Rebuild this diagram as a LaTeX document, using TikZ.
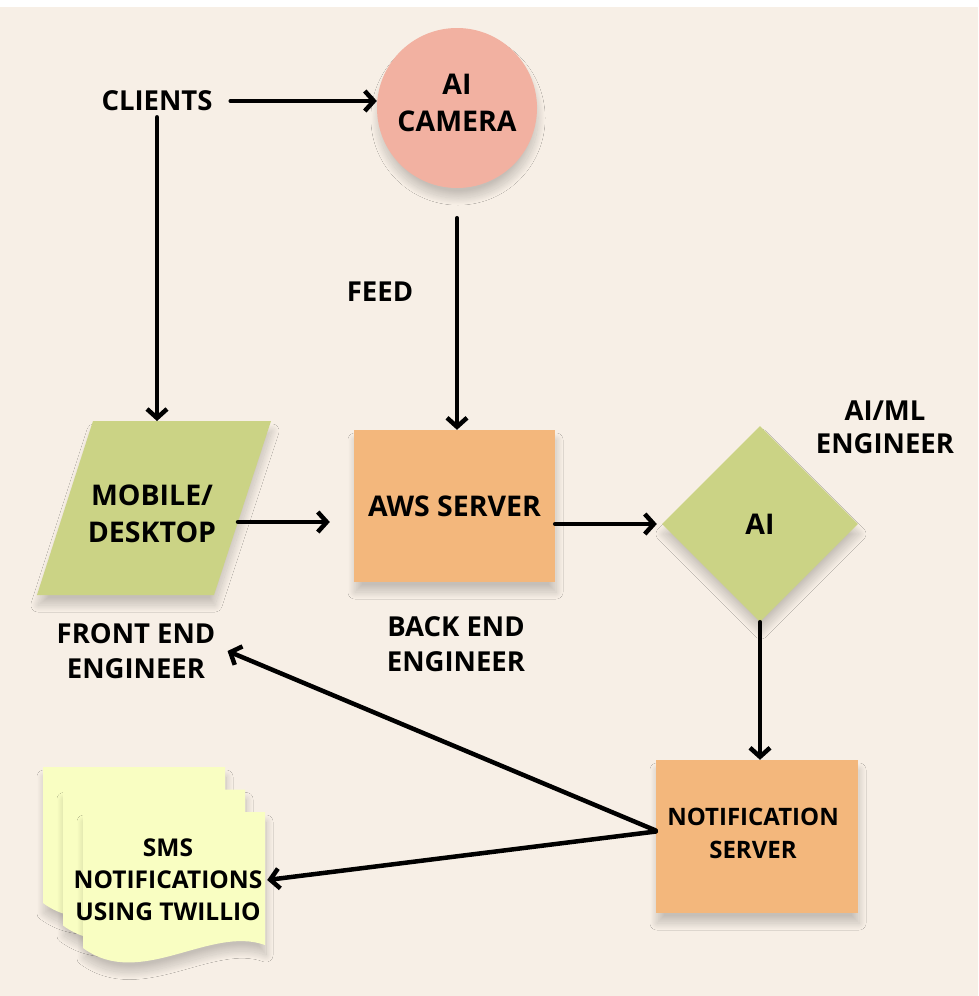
\documentclass[tikz,border=0pt]{standalone}
\usepackage{fontspec}
\setmainfont{Open Sans}
\usetikzlibrary{shapes.geometric,arrows.meta,shadows.blur}
\definecolor{bg}{HTML}{F7EFE6}
\definecolor{campink}{HTML}{F2B1A1}
\definecolor{leaf}{HTML}{CBD385}
\definecolor{peach}{HTML}{F3B77C}
\definecolor{paper}{HTML}{F9FEC2}
\tikzset{
  nodetxt/.style={font=\fontsize{28.5}{37}\selectfont\bfseries, align=center, inner sep=0pt},
  lbl/.style={font=\fontsize{27.5}{35}\selectfont\bfseries, align=center, inner sep=0pt},
  smalllbl/.style={font=\fontsize{24}{33}\selectfont\bfseries, align=center, inner sep=0pt},
  shad/.style={blur shadow={shadow xshift=1pt, shadow yshift=-10pt, shadow blur radius=7pt, shadow blur steps=40, shadow opacity=20}},
  arr/.style={line width=4.5pt, line cap=round, -{Straight Barb[length=9pt,width=20pt]}},
  docshape/.style={fill=paper, shad}
}
\begin{document}
\begin{tikzpicture}[x=1pt,y=-1pt]
\useasboundingbox (0,0) rectangle (978,996);
\fill[bg] (0,7) rectangle (978,996);

% documents stack
\foreach \dx/\dy in {0/0, 20/22.5, 40/45}{
  \begin{scope}[shift={(\dx,\dy)}]
    \fill[docshape] (43,767) -- (225,767) -- (225,900)
      .. controls (170,880) and (100,945) .. (43,903) -- cycle;
  \end{scope}
}

% parallelogram (mobile / desktop)
\fill[leaf, shad] (93,421) -- (271,421) -- (214,595) -- (37,595) -- cycle;
\coordinate (mobtop) at (155,421);
\coordinate (mobright) at (238,522);

\node[lbl] (clients) at (157,101) {CLIENTS};
\node[circle, fill=campink, minimum size=160pt, shad, nodetxt] (cam) at (457,108) {};
\node[nodetxt] (camtxt) at (457,103) {AI\\CAMERA};
\node[lbl] (feed) at (380,292) {FEED};
\node[nodetxt] (mobile) at (152,514) {MOBILE/\\DESKTOP};
\node[rectangle, fill=peach, minimum width=201pt, minimum height=152pt, shad, nodetxt] (aws) at (454.5,506) {AWS SERVER};
\node[diamond, aspect=1, fill=leaf, minimum width=196pt, minimum height=196pt, shad, nodetxt] (ai) at (760,524) {AI};
\node[lbl, font=\fontsize{27.5}{33}\selectfont\bfseries] (aiml) at (885,427) {AI/ML\\ENGINEER};
\node[lbl] (be) at (456,644) {BACK END\\ENGINEER};
\node[lbl, inner xsep=12pt] (fe) at (136,651) {FRONT END\\ENGINEER};
\node[rectangle, fill=peach, minimum width=202pt, minimum height=153pt, shad] (notif) at (757,836.5) {};
\node[smalllbl] (notiftxt) at (753,833.5) {NOTIFICATION\\SERVER};
\node[smalllbl, font=\fontsize{24.5}{32}\selectfont\bfseries, minimum width=198pt, minimum height=133pt] (sms) at (168,880) {SMS\\NOTIFICATIONS\\USING TWILLIO};

% connectors
\draw[arr, shorten <=18pt] (clients.east) -- (clients.east -| cam.west);
\draw[arr, shorten <=6pt] (clients.south) -- (clients.south |- mobtop);
\draw[arr, shorten <=30pt] (cam.south) -- (cam.south |- aws.north);
\draw[arr, shorten >=24pt] (mobright) -- (aws.west |- mobright);
\draw[arr, shorten >=5pt] (aws.east |- ai.west) -- (ai.west);
\draw[arr] (ai.south) -- (ai.south |- notif.north);
\draw[arr] ([yshift=6pt]notif.west) -- (fe.east);
\draw[arr] ([yshift=5pt]notif.west) -- (sms.east);
\end{tikzpicture}
\end{document}
